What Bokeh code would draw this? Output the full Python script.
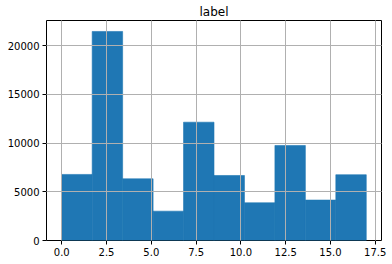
from bokeh.plotting import figure
from bokeh.models import FixedTicker, NumeralTickFormatter, Range1d
from bokeh.embed import file_html
from bokeh.resources import INLINE

bin_edges = [0.0, 1.7, 3.4, 5.1, 6.8, 8.5, 10.2, 11.9, 13.6, 15.3, 17.0]
counts = [6780, 21450, 6330, 3010, 12140, 6670, 3870, 9750, 4150, 6750]
x_ticks = [0, 2.5, 5, 7.5, 10, 12.5, 15, 17.5]
y_ticks = [0, 5000, 10000, 15000, 20000]

p = figure(width=392, height=264, output_backend="svg", toolbar_location=None,
           title="label", min_border_left=46, min_border_right=11,
           min_border_bottom=24, min_border_top=4)
p.x_range = Range1d(-0.85, 17.85)
p.y_range = Range1d(0, 22575)

p.quad(left=bin_edges[:-1], right=bin_edges[1:], bottom=0, top=counts,
       fill_color="#1f77b4", line_color="#1f77b4", line_width=0.6)

p.title.align = "center"
p.title.text_font = "DejaVu Sans"
p.title.text_font_size = "12px"
p.title.text_font_style = "normal"
p.title.text_color = "black"
p.title.standoff = 4

p.outline_line_color = "black"
p.outline_line_width = 1
p.outline_line_alpha = 1

for ax in (p.xaxis, p.yaxis):
    ax.axis_line_color = None
    ax.major_tick_in = 0
    ax.major_tick_out = 4
    ax.minor_tick_line_color = None
    ax.major_tick_line_color = "black"
    ax.major_label_text_font = "DejaVu Sans"
    ax.major_label_text_font_size = "10px"
    ax.major_label_text_color = "black"
    ax.major_label_standoff = 3

p.xaxis.ticker = FixedTicker(ticks=x_ticks)
p.yaxis.ticker = FixedTicker(ticks=y_ticks)
p.xaxis.formatter = NumeralTickFormatter(format="0.0")
p.yaxis.formatter = NumeralTickFormatter(format="0")

for g in (p.xgrid, p.ygrid):
    g.grid_line_color = "#b0b0b0"
    g.grid_line_width = 1
    g.level = "overlay"

p.background_fill_color = "white"
p.border_fill_color = "white"

open("out.html", "w").write(file_html(p, INLINE))
